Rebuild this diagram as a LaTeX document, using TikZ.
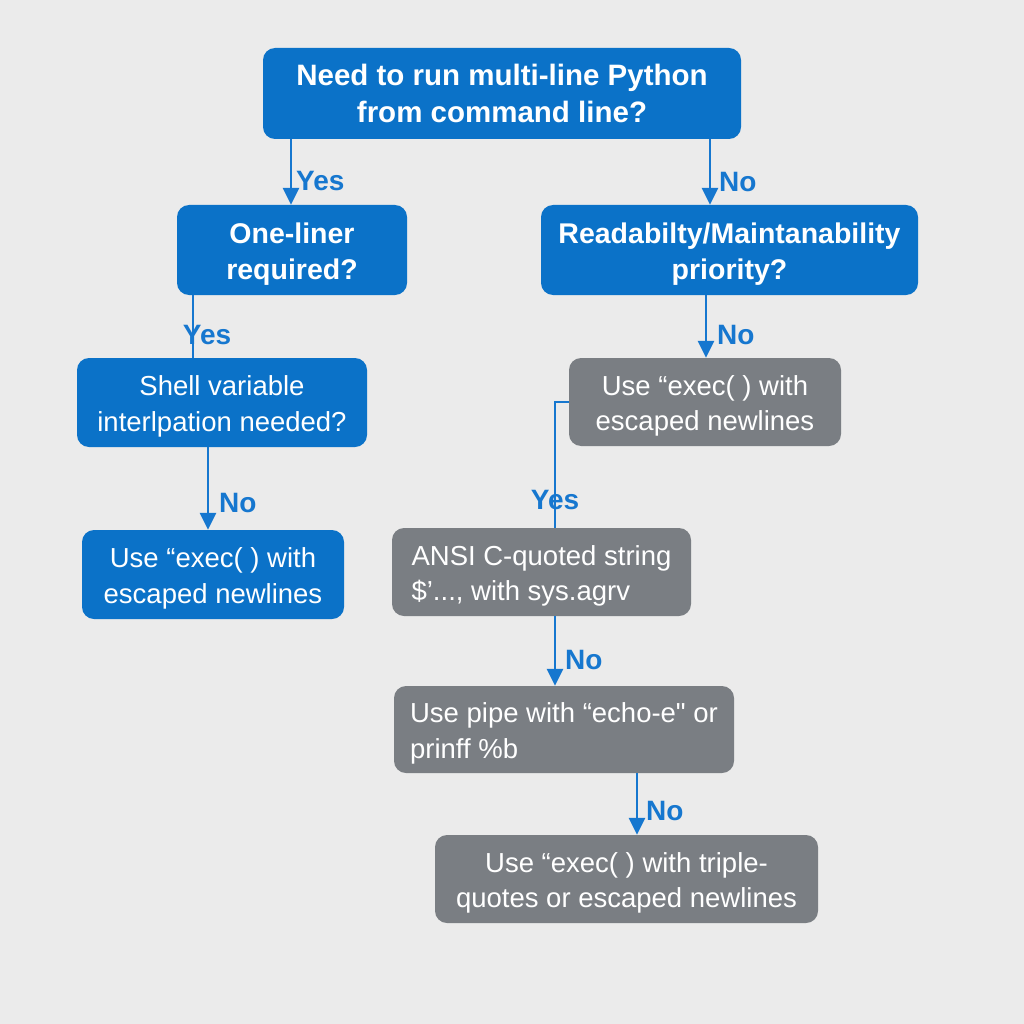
\documentclass[tikz,border=0pt]{standalone}
\usepackage{fontspec}
\setmainfont{Liberation Sans}
\usetikzlibrary{arrows.meta}
\definecolor{flowblue}{HTML}{0B72C8}
\definecolor{flowgrey}{HTML}{7A7E83}
\definecolor{linkblue}{HTML}{1677CF}
\definecolor{paper}{HTML}{EBEBEB}
\begin{document}
\begin{tikzpicture}[x=1pt,y=-1pt,
  box/.style={rounded corners=12pt, inner sep=0pt, text=white, align=center,
    font=\fontsize{27.5}{35.5}\selectfont},
  qbox/.style={box, fill=flowblue, text height=63.5pt},
  qboxb/.style={qbox, font=\fontsize{28.5}{36}\selectfont\bfseries, text height=64pt},
  abox/.style={box, fill=flowgrey, text height=63.5pt},
  link/.style={draw=linkblue, line width=2.8pt},
  arr/.style={link, -{Triangle[width=16pt,length=17pt]}},
  lbl/.style={text=linkblue, inner sep=0pt, font=\fontsize{28}{32}\selectfont\bfseries}]
\fill[paper] (0,0) rectangle (1024,1024);
\useasboundingbox (0,0) rectangle (1024,1024);

% decision boxes
\node[box, fill=flowblue, minimum width=478pt, minimum height=91pt,
  font=\fontsize{29.5}{37}\selectfont\bfseries] (top) at (502,93.5)
  {Need to run multi-line Python\\from command line?};
\node[qboxb, minimum width=230pt, minimum height=90pt] (one) at (292,250)
  {One-liner\\required?};
\node[qboxb, minimum width=377pt, minimum height=90pt] (read) at (729.5,250)
  {Readabilty/Maintanability\\priority?};
\node[qbox, minimum width=290pt, minimum height=89pt] (shell) at (222,402.5)
  {Shell variable\\interlpation needed?};
\node[qbox, minimum width=262pt, minimum height=89pt] (execl) at (213,574.5)
  {Use “exec( ) with\\escaped newlines};

% outcome boxes
\node[abox, minimum width=272pt, minimum height=88pt] (execr) at (705,402)
  {Use “exec( ) with\\escaped newlines};
\node[abox, minimum width=299pt, minimum height=88pt, align=left] (ansi) at (541.5,572)
  {ANSI C-quoted string\\\$’..., with sys.agrv};
\node[abox, minimum width=340pt, minimum height=87pt, align=left] (pipe) at (564,729.5)
  {Use pipe with “echo-e\textquotedbl{} or\\prinff \%b};
\node[abox, minimum width=383pt, minimum height=88pt] (final) at (626.5,879)
  {Use “exec( ) with triple-\\quotes or escaped newlines};

% connector columns
\coordinate (c1) at (291,0);
\coordinate (c2) at (710,0);
\coordinate (c3) at (193,0);
\coordinate (c4) at (208,0);
\coordinate (c5) at (706,0);
\coordinate (c6) at (555,0);
\coordinate (c7) at (637,0);

\draw[arr] (top.south -| c1) -- (one.north -| c1);
\draw[arr] (top.south -| c2) -- (read.north -| c2);
\draw[link] (one.south -| c3) -- (shell.north -| c3);
\draw[arr] (shell.south -| c4) -- (execl.north -| c4);
\draw[arr] (read.south -| c5) -- (execr.north -| c5);
\draw[link] (execr.west) -| (ansi.north -| c6);
\draw[arr] (ansi.south -| c6) -- (pipe.north -| c6);
\draw[arr] (pipe.south -| c7) -- (final.north -| c7);

% branch labels
\node[lbl, anchor=west] (l1) at (296,181) {Yes};
\node[lbl, anchor=west] (l2) at (719,182) {No};
\node[lbl] (l3) at (207,335) {Yes};
\node[lbl, anchor=west] (l4) at (219,503) {No};
\node[lbl, anchor=west] (l5) at (717,335) {No};
\node[lbl] (l6) at (555,500) {Yes};
\node[lbl, anchor=west] (l7) at (565,660) {No};
\node[lbl, anchor=west] (l8) at (646,811) {No};
\end{tikzpicture}
\end{document}
